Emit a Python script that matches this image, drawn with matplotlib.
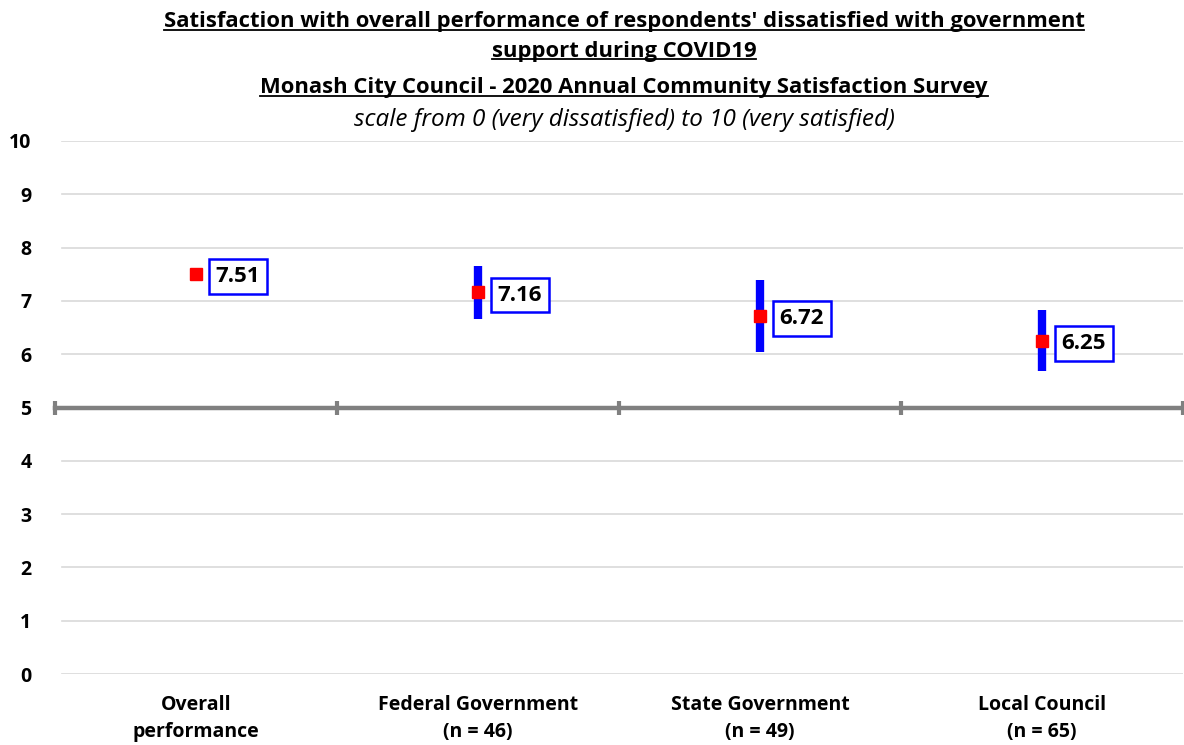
import matplotlib
matplotlib.use("Agg")
import matplotlib.pyplot as plt
import matplotlib.transforms as mtransforms
from matplotlib.lines import Line2D

plt.rcParams['font.family'] = ['Open Sans', 'DejaVu Sans']

categories = ["Overall\nperformance", "Federal Government\n(n = 46)",
              "State Government\n(n = 49)", "Local Council\n(n = 65)"]
means = [7.51, 7.16, 6.72, 6.25]
ci_low = [None, 6.66, 6.05, 5.68]
ci_high = [None, 7.66, 7.39, 6.83]
yticks = list(range(0, 11))
title_lines = ["Satisfaction with overall performance of respondents' dissatisfied with government",
               "support during COVID19",
               "Monash City Council - 2020 Annual Community Satisfaction Survey"]
subtitle = "scale from 0 (very dissatisfied) to 10 (very satisfied)"

W, H = 1184, 745
fig = plt.figure(figsize=(W / 100, H / 100), dpi=100)
ax = fig.add_axes([55 / W, (H - 674) / H, (1183 - 55) / W, (674 - 141) / H])

x = list(range(len(categories)))
ax.set_xlim(-0.5, len(categories) - 0.5)
ax.set_ylim(0, 10)

# gridlines
for yv in yticks:
    if yv != 5:
        ax.axhline(yv, color='#d9d9d9', lw=1.2, zorder=0, xmin=7 / 1128)

# error bars
for xi, lo, hi in zip(x, ci_low, ci_high):
    if lo is not None:
        ax.vlines(xi, lo, hi, color='#0000ff', lw=6, zorder=3)

ax.plot(x, means, linestyle='none', marker='s', markersize=8.5,
        color='#ff0000', zorder=4)

for xi, m in zip(x, means):
    ax.annotate(f"{m:.2f}", (xi, m), xytext=(14, -2), textcoords='offset points',
                ha='left', va='center', fontsize=16, fontweight='bold', color='black',
                bbox=dict(boxstyle='square,pad=0.3', fc='white', ec='#0000ff', lw=1.8),
                zorder=5)

# axis at 5
for s in ['left', 'right', 'top']:
    ax.spines[s].set_visible(False)
ax.spines['bottom'].set_position(('data', 5))
ax.spines['bottom'].set_color('#808080')
ax.spines['bottom'].set_linewidth(3.2)
ax.spines['bottom'].set_zorder(2)
ax.set_xticks([i - 0.5 for i in range(len(categories) + 1)])
ax.set_xticklabels([])
ax.tick_params(axis='x', direction='inout', length=10, width=3, color='#808080')
ax.set_yticks(yticks)
ax.set_yticklabels([str(v) for v in yticks], fontsize=14, fontweight='bold')
ax.tick_params(axis='y', length=0, pad=17)

trans = mtransforms.blended_transform_factory(ax.transData, fig.transFigure)
for xi, c in zip(x, categories):
    ax.text(xi, (H - 695) / H, c, transform=trans, ha='center', va='top',
            fontsize=14, fontweight='bold', linespacing=1.5)

# titles
ys = [22, 51, 88]
texts = []
for t, yp in zip(title_lines, ys):
    texts.append(fig.text(624 / W, (H - yp) / H, t, ha='center', va='center',
                          fontsize=15.8, fontweight='bold'))
fig.text(624 / W, (H - 120) / H, subtitle, ha='center', va='center',
         fontsize=17.5, fontstyle='italic')

fig.canvas.draw()
r = fig.canvas.get_renderer()
for t in texts:
    bb = t.get_window_extent(r)
    yline = bb.y0 + 3
    fig.add_artist(Line2D([bb.x0 / W, bb.x1 / W], [yline / H, yline / H],
                          transform=fig.transFigure, color='black', lw=1.3))

fig.savefig("out.png", dpi=100)
